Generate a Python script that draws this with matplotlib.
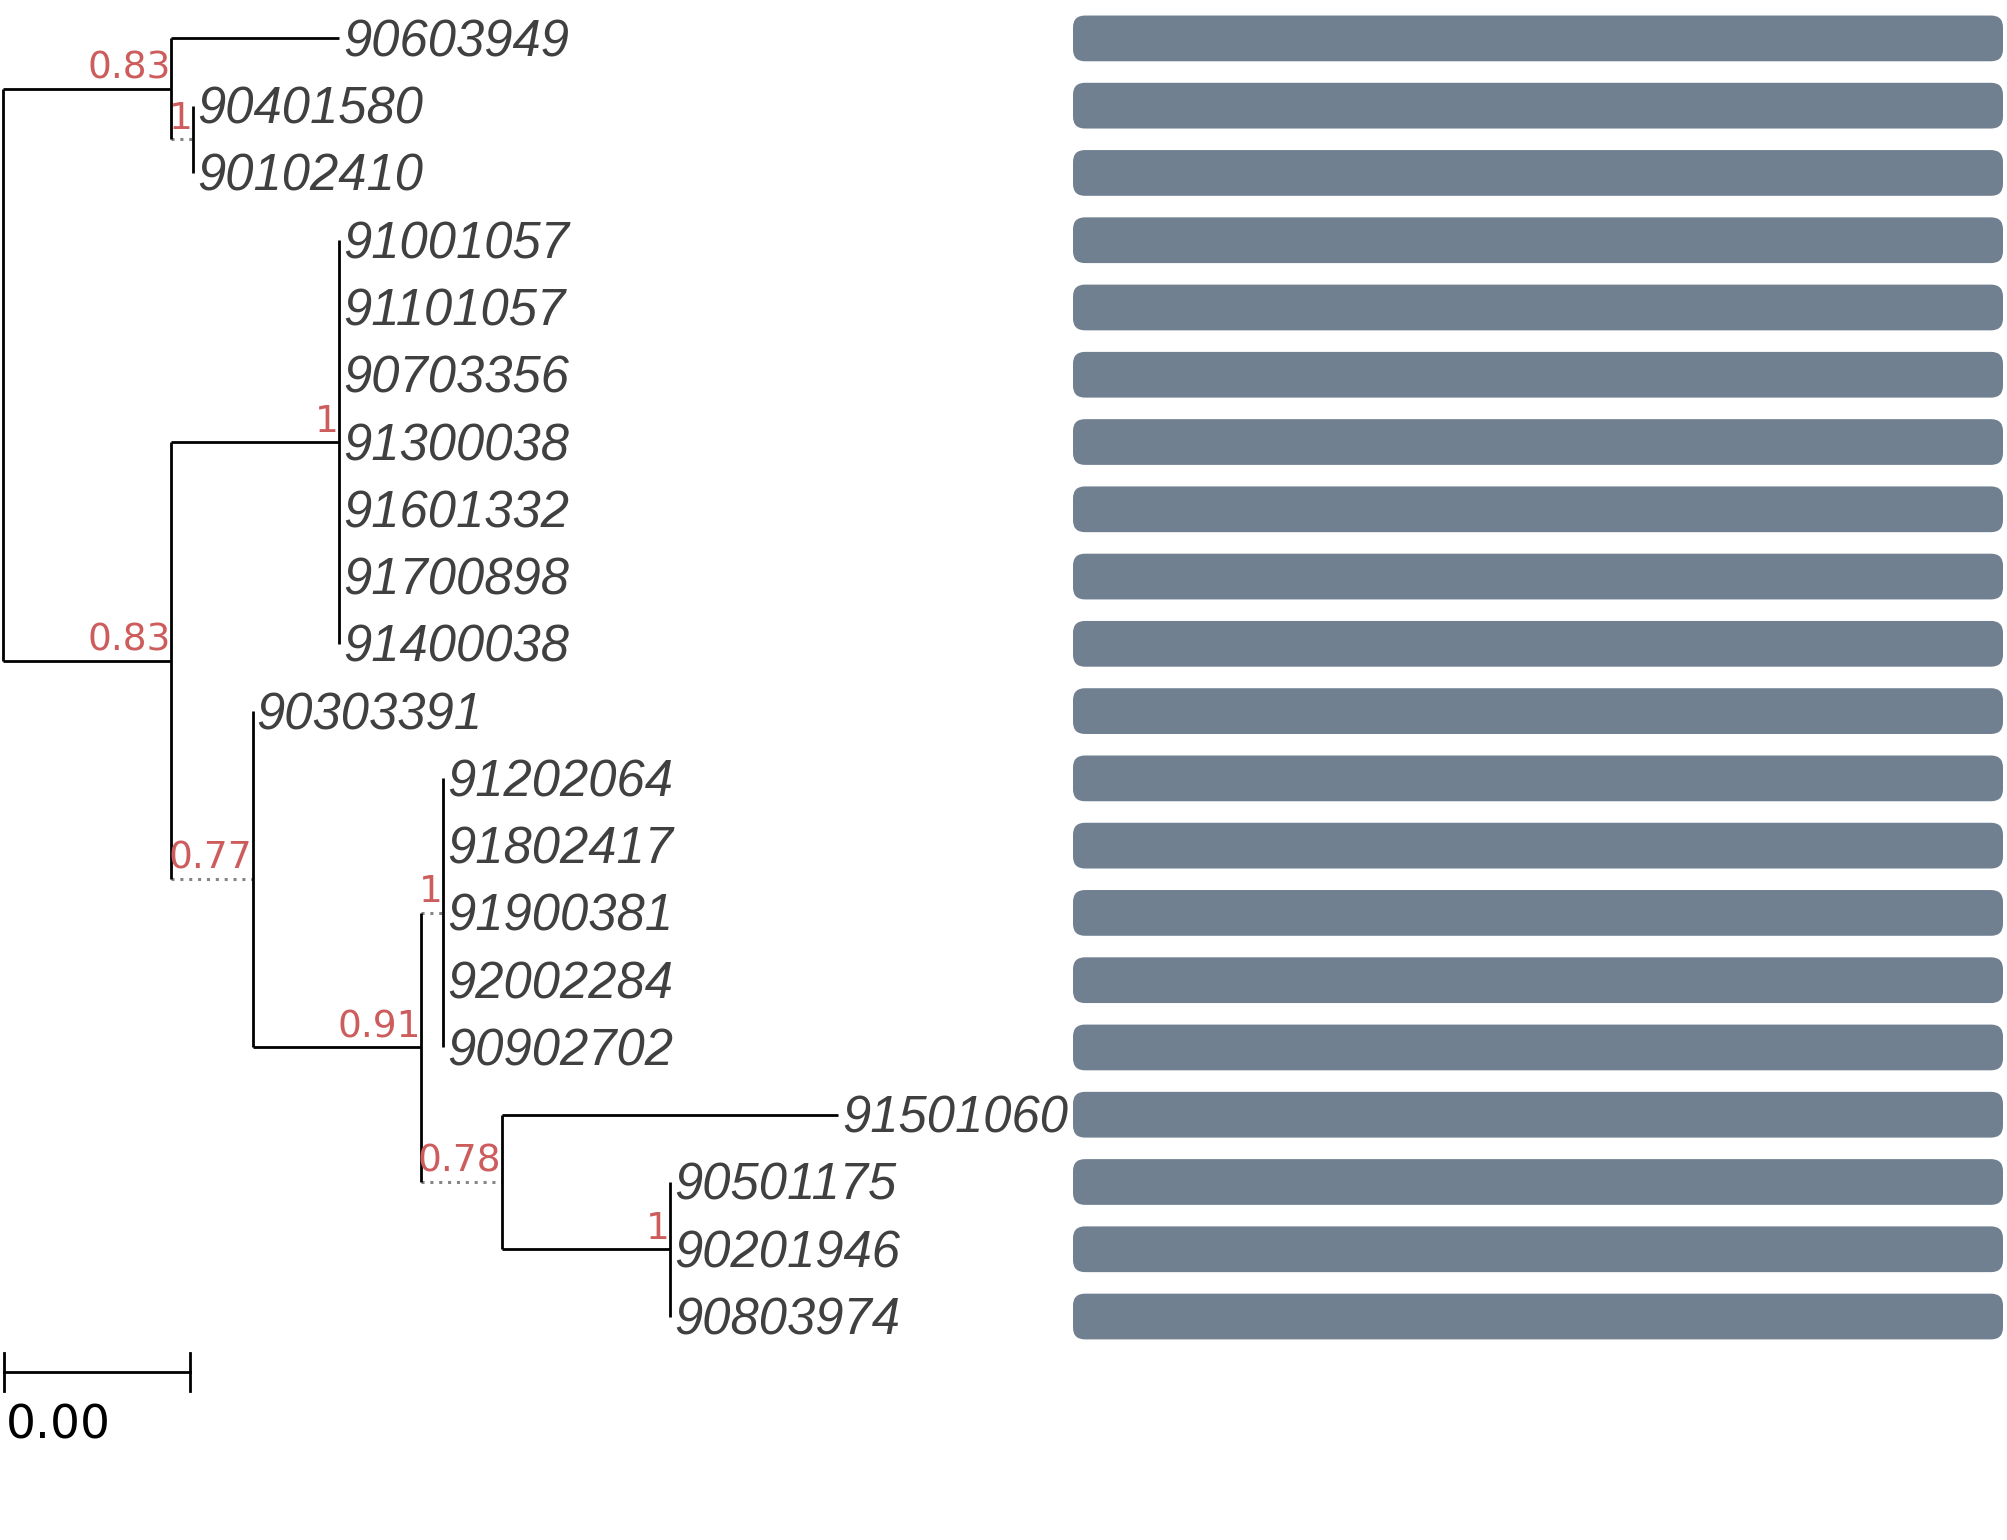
import matplotlib
matplotlib.use("Agg")
import matplotlib.pyplot as plt
from matplotlib.patches import FancyBboxPatch
import numpy as np

# ---------------- data ----------------
tip_labels = ["90603949", "90401580", "90102410", "91001057", "91101057",
              "90703356", "91300038", "91601332", "91700898", "91400038",
              "90303391", "91202064", "91802417", "91900381", "92002284",
              "90902702", "91501060", "90501175", "90201946", "90803974"]

# internal nodes: name -> (parent, branch length)
node_parent = {"A": "root", "B": "A", "C": "root", "D": "C", "E": "C",
               "F": "E", "G": "F", "H": "F", "I": "H"}
node_length = {"A": 0.0036, "B": 0.00047, "C": 0.0036, "D": 0.0036,
               "E": 0.00175, "F": 0.0036, "G": 0.00047, "H": 0.00173,
               "I": 0.0036}
node_support = {"A": "0.83", "B": "1", "C": "0.83", "D": "1", "E": "0.77",
                "F": "0.91", "G": "1", "H": "0.78", "I": "1"}
dotted_nodes = ["B", "E", "G", "H"]

# tips: parent and branch length
tip_parent = ["A", "B", "B", "D", "D", "D", "D", "D", "D", "D",
              "E", "G", "G", "G", "G", "G", "H", "I", "I", "I"]
tip_length = [0.0036, 0.0, 0.0, 0.0, 0.0, 0.0, 0.0, 0.0, 0.0, 0.0,
              0.0, 0.0, 0.0, 0.0, 0.0, 0.0, 0.0072, 0.0, 0.0, 0.0]

bar_values = [1.0] * 20
scale_length = 0.004

# ---------------- layout ----------------
W, H = 2007, 1540
DPI = 100
px_per_unit = 46720.0
root_px = 2.6
row0_px, row_px = 38.4, 67.27

fig = plt.figure(figsize=(W / DPI, H / DPI), dpi=DPI)
ax = fig.add_axes([0, 0, 1, 1])
ax.set_xlim(-root_px / px_per_unit, (W - root_px) / px_per_unit)
ax.set_ylim((H - row0_px) / row_px, -row0_px / row_px)
ax.axis("off")

# compute node coordinates
children = {}
for n, p in node_parent.items():
    children.setdefault(p, []).append(("node", n))
for i, p in enumerate(tip_parent):
    children.setdefault(p, []).append(("tip", i))

xpos, ypos = {"root": 0.0}, {}
tip_x = [0.0] * len(tip_labels)

def set_x(name):
    for kind, c in children.get(name, []):
        if kind == "node":
            xpos[c] = xpos[name] + node_length[c]
            set_x(c)
        else:
            tip_x[c] = xpos[name] + tip_length[c]

def set_y(name):
    ys = []
    for kind, c in children.get(name, []):
        ys.append(set_y(c) if kind == "node" else float(c))
    ypos[name] = (min(ys) + max(ys)) / 2
    return ypos[name]

set_x("root")
set_y("root")

black_lw = 2.0
for name, kids in children.items():
    ys = [ypos[c] if k == "node" else float(c) for k, c in kids]
    ax.plot([xpos[name], xpos[name]], [min(ys), max(ys)], color="black",
            lw=black_lw, solid_capstyle="butt", zorder=2)
    for k, c in kids:
        if k == "node":
            x1, y1 = xpos[c], ypos[c]
            dotted = c in dotted_nodes
        else:
            x1, y1 = tip_x[c], float(c)
            dotted = False
        if x1 - xpos[name] <= 0:
            continue
        if dotted:
            ax.plot([xpos[name], x1], [y1, y1], color="#858585", lw=2.2,
                    linestyle=(0, (1, 1.9)), zorder=1)
        else:
            ax.plot([xpos[name], x1], [y1, y1], color="black", lw=black_lw,
                    solid_capstyle="butt", zorder=2)

# tip labels
fs_tip = 36.5
for i, lab in enumerate(tip_labels):
    ax.annotate(lab, xy=(tip_x[i], i), xytext=(3, -0.355 * fs_tip),
                textcoords="offset points", ha="left", va="baseline",
                fontsize=fs_tip, fontstyle="italic", family="Liberation Sans",
                color="#404040", zorder=3)

# support labels
for n, s in node_support.items():
    ax.annotate(s, xy=(xpos[n], ypos[n]), xytext=(0, 7.5),
                textcoords="offset points", ha="right", va="baseline",
                fontsize=27, family="DejaVu Sans", color="#CD5C5C", zorder=4)

# scale bar
sb_y = (1372 - row0_px) / row_px
sb_tick = 0.28
ax.plot([0.00002, 0.00002 + scale_length], [sb_y, sb_y], color="black", lw=black_lw)
for xx in (0.00002, 0.00002 + scale_length):
    ax.plot([xx, xx], [sb_y - sb_tick, sb_y + sb_tick], color="black", lw=black_lw)
ax.annotate(f"{scale_length:.2f}", xy=(0.00002, sb_y), xytext=(1.5, -48),
            textcoords="offset points", ha="left", va="baseline",
            fontsize=34, family="DejaVu Sans", color="black")

# bars
bl, br = 1073 / W, 2003 / W
bax = fig.add_axes([bl, 0, br - bl, 1])
bax.set_xlim(0, max(bar_values))
bax.set_ylim(ax.get_ylim())
bax.axis("off")
bar_h = 0.68
bars = bax.barh(np.arange(len(bar_values)), bar_values, height=bar_h)
bar_px_w = (br - bl) * W
radius_px = 12
r_x = radius_px / bar_px_w * max(bar_values)
aspect = (1 / row_px) / (max(bar_values) / bar_px_w)
for b in bars:
    x0, y0, w, h = b.get_x(), b.get_y(), b.get_width(), b.get_height()
    b.remove()
    p = FancyBboxPatch((x0, y0), w, h,
                       boxstyle=f"round,pad=0,rounding_size={r_x}",
                       mutation_aspect=aspect, facecolor="#708090",
                       edgecolor="none")
    bax.add_patch(p)

fig.savefig("out.png", dpi=DPI, facecolor="white")
